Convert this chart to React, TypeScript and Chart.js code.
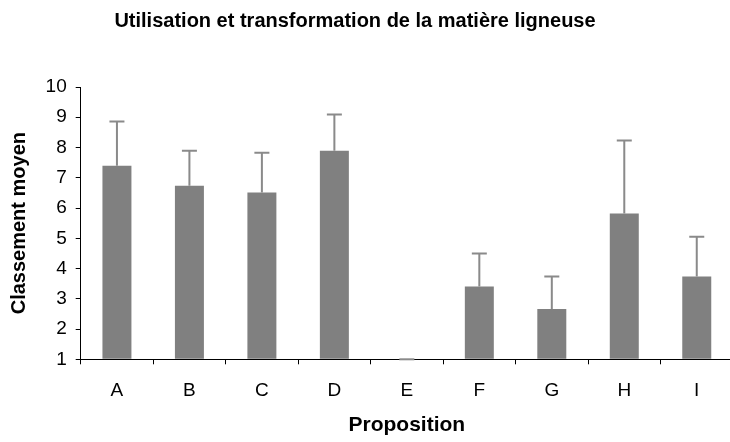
import React, { useEffect, useRef } from "react";
import { Chart, registerables } from "chart.js";

Chart.register(...registerables);

const categories = ["A", "B", "C", "D", "E", "F", "G", "H", "I"];
const means = [7.4, 6.74, 6.51, 7.89, 1.0, 3.41, 2.66, 5.82, 3.74];
const errors = [1.46, 1.15, 1.32, 1.2, 0, 1.09, 1.08, 2.41, 1.31];
const yTicks = [1, 2, 3, 4, 5, 6, 7, 8, 9, 10];
const chartTitle = "Utilisation et transformation de la matière ligneuse";

const FONT = "'Liberation Sans', Arial, sans-serif";

const errorBarPlugin = {
  id: "errorBars",
  afterDatasetsDraw(chart: any) {
    const meta = chart.getDatasetMeta(0);
    const yScale = chart.scales.y;
    const ctx = chart.ctx;
    ctx.save();
    ctx.strokeStyle = "#8a8a8a";
    ctx.lineWidth = 2;
    meta.data.forEach((el: any, i: number) => {
      const x = el.x;
      const yb = yScale.getPixelForValue(means[i]);
      const yt = yScale.getPixelForValue(means[i] + errors[i]);
      ctx.beginPath();
      ctx.moveTo(x, yb);
      ctx.lineTo(x, yt);
      ctx.moveTo(x - 7.5, yt);
      ctx.lineTo(x + 7.5, yt);
      ctx.stroke();
    });
    ctx.restore();
  },
};

const titlePlugin = {
  id: "offsetTitle",
  afterDraw(chart: any) {
    const ctx = chart.ctx;
    ctx.save();
    ctx.fillStyle = "#000";
    ctx.font = `bold 20px ${FONT}`;
    ctx.textAlign = "center";
    ctx.textBaseline = "middle";
    ctx.fillText(chartTitle, 355, 21);
    ctx.restore();
  },
};

export default function App() {
  const ref = useRef<HTMLCanvasElement>(null);
  useEffect(() => {
    document.body.style.margin = "0";
    const chart = new Chart(ref.current!, {
      type: "bar",
      data: {
        labels: categories,
        datasets: [
          {
            data: means,
            backgroundColor: "#808080",
            base: 1,
            barPercentage: 0.4,
            categoryPercentage: 1,
          },
        ],
      },
      options: {
        responsive: false,
        animation: false,
        layout: { padding: { left: 0, right: 1, top: 0, bottom: 0 } },
        plugins: {
          legend: { display: false },
          tooltip: { enabled: false },
          title: {
            display: true,
            text: "",
            font: { family: FONT, size: 20, weight: "bold" },
            padding: { top: 9, bottom: 54 },
          },
        },
        scales: {
          x: {
            offset: true,
            grid: {
              offset: true,
              drawOnChartArea: false,
              drawTicks: true,
              tickLength: 5,
              color: "#000",
            },
            border: { color: "#000", width: 1 },
            ticks: {
              color: "#000",
              font: { family: FONT, size: 19 },
              padding: 15,
            },
            title: {
              display: true,
              text: "Proposition",
              color: "#000",
              font: { family: FONT, size: 21, weight: "bold" },
              padding: { top: 0, bottom: 4 },
            },
            afterFit(scale: any) {
              scale.height = 82.7;
            },
          },
          y: {
            min: 1,
            max: 10,
            afterBuildTicks(scale: any) {
              scale.ticks = yTicks.map((v) => ({ value: v }));
            },
            grid: {
              drawOnChartArea: false,
              drawTicks: true,
              tickLength: 5,
              color: "#000",
            },
            border: { color: "#000", width: 1 },
            ticks: {
              color: "#000",
              font: { family: FONT, size: 19 },
              padding: 9,
            },
            title: {
              display: true,
              text: "Classement moyen",
              color: "#000",
              font: { family: FONT, size: 20, weight: "bold" },
              padding: { top: 7, bottom: 0 },
            },
            afterFit(scale: any) {
              scale.width = 80.7;
            },
          },
        },
      },
      plugins: [errorBarPlugin, titlePlugin],
    });
    return () => chart.destroy();
  }, []);
  return (
    <div style={{ width: 730, height: 442, overflow: "hidden" }}>
      <canvas ref={ref} width={734} height={442} />
    </div>
  );
}
